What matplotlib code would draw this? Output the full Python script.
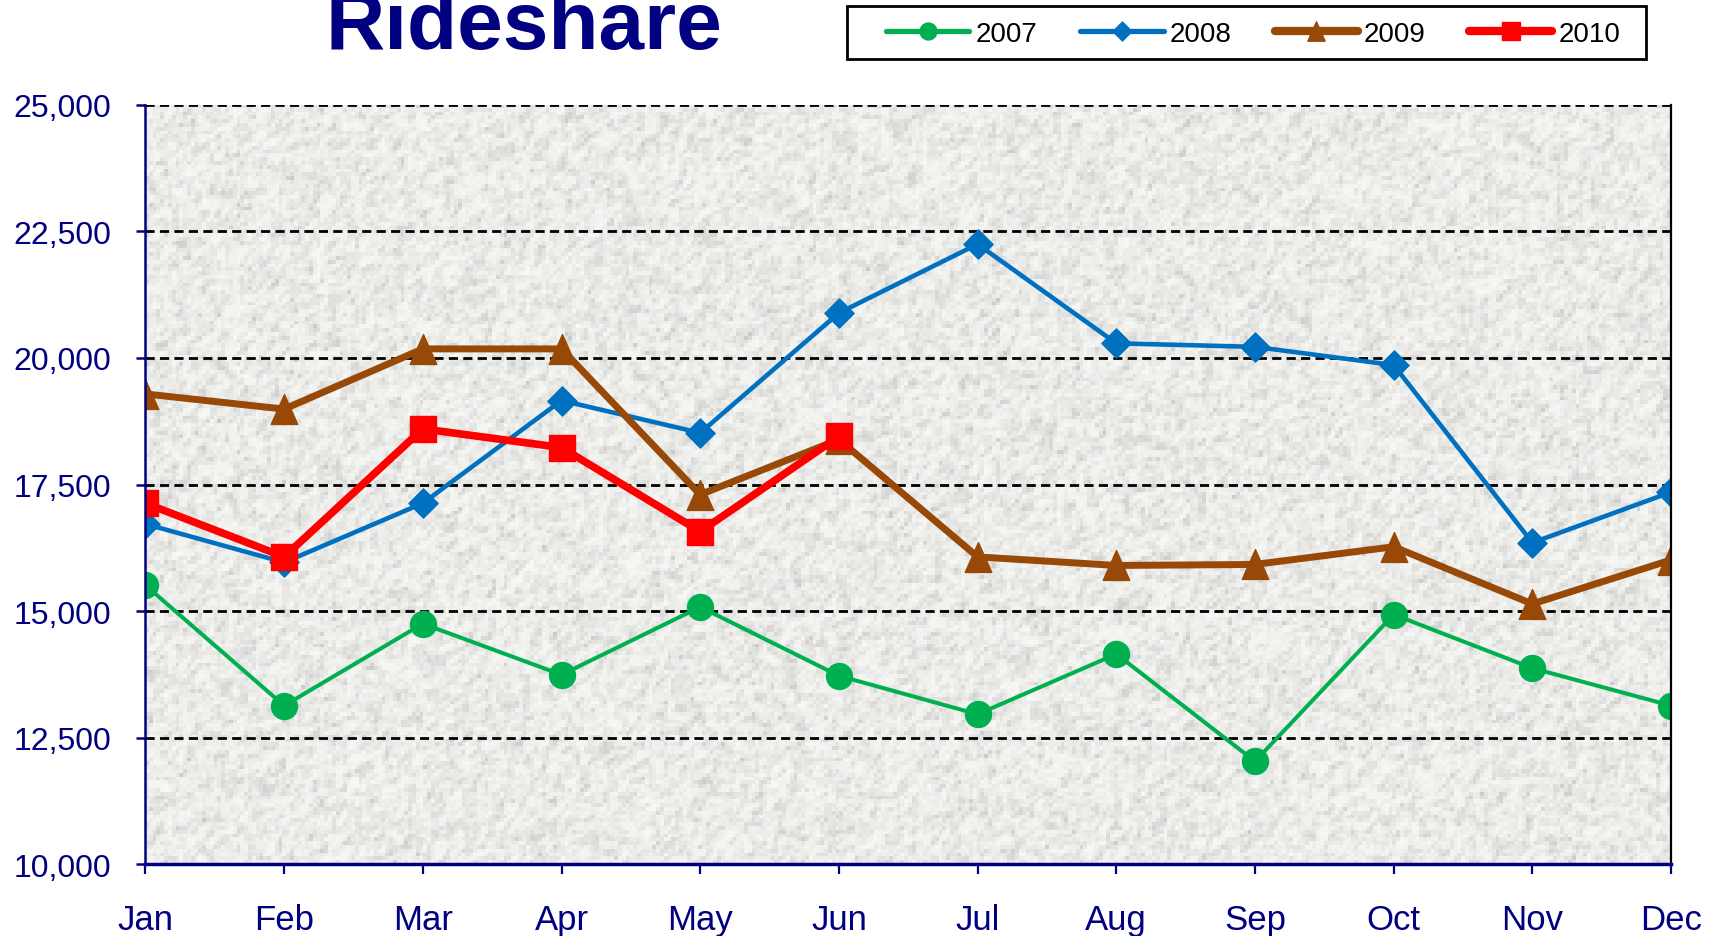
import numpy as np
import matplotlib
matplotlib.use("Agg")
import matplotlib.pyplot as plt
from matplotlib.path import Path
from matplotlib.patches import Rectangle

plt.rcParams['font.family'] = ['Liberation Sans', 'DejaVu Sans']

months = ["Jan", "Feb", "Mar", "Apr", "May", "Jun", "Jul", "Aug", "Sep", "Oct", "Nov", "Dec"]
y2007 = [15510, 13130, 14750, 13740, 15080, 13720, 12960, 14150, 12030, 14930, 13870, 13130]
y2008 = [16720, 15960, 17130, 19160, 18520, 20890, 22250, 20290, 20220, 19860, 16350, 17350]
y2009 = [19290, 18990, 20180, 20180, 17300, 18390, 16070, 15900, 15920, 16270, 15140, 16010]
y2010 = [17130, 16070, 18600, 18230, 16570, 18450]
yticks = [10000, 12500, 15000, 17500, 20000, 22500, 25000]

NAVY = '#000080'
C07, C08, C09, C10 = '#00B050', '#0070C0', '#984807', '#FF0000'

# marker shapes
circle = Path.unit_circle()
diamond = Path([(0, 1), (1, 0), (0, -1), (-1, 0), (0, 1)], closed=True)
tri = Path([(0, 0.9), (0.8, -0.9), (-0.8, -0.9), (0, 0.9)], closed=True)
square = Path([(-1, -1), (1, -1), (1, 1), (-1, 1), (-1, -1)], closed=True)

fig = plt.figure(figsize=(17.15, 9.37), dpi=100)
ax = fig.add_axes([0.0848, 0.0768, 0.8896, 0.8101])

# light textured gray background (decorative)
rng = np.random.default_rng(3)
tex = rng.random((200, 400))
tex = (tex + np.roll(tex, 1, 0) + np.roll(tex, 1, 1)) / 3
tex = (tex - tex.min()) / (tex.max() - tex.min())
g = 0.97 - 0.18 * tex ** 2
rgb = np.dstack([g, g, g * 0.99])
ax.imshow(rgb, extent=[0, 1, 0, 1], transform=ax.transAxes, aspect='auto', zorder=0,
          interpolation='nearest')

x = np.arange(len(months))
ax.plot(x, y2007, color=C07, lw=2.9, marker=circle, ms=18.7, label='2007', zorder=3)
ax.plot(x, y2008, color=C08, lw=3.3, marker=diamond, ms=21, label='2008', zorder=3)
ax.plot(x, y2009, color=C09, lw=5.0, marker=tri, ms=21.5, label='2009', zorder=4)
ax.plot(x[:len(y2010)], y2010, color=C10, lw=5.5, marker=square, ms=19, label='2010', zorder=5)

ax.set_xlim(0, 11)
ax.set_ylim(10000, 25000)
ax.set_xticks(x)
ax.set_xticklabels(months)
ax.set_yticks(yticks)
ax.set_yticklabels([f"{v:,}" for v in yticks])

ax.yaxis.grid(True, linestyle=(0, (3.3, 1.9)), color='black', lw=2.0)
for gl in ax.yaxis.get_gridlines():
    gl.set_zorder(1)

ax.spines['top'].set_visible(False)
ax.spines['right'].set_color('black')
ax.spines['right'].set_linewidth(1.6)
ax.spines['left'].set_color(NAVY)
ax.spines['left'].set_linewidth(1.8)
ax.spines['bottom'].set_color(NAVY)
ax.spines['bottom'].set_linewidth(2.5)
for s in ax.spines.values():
    s.set_zorder(6)

ax.tick_params(axis='y', direction='out', length=6.5, width=1.8, color=NAVY,
               labelcolor=NAVY, labelsize=23, pad=18)
ax.tick_params(axis='x', direction='out', length=7, width=1.6, color=NAVY,
               labelcolor=NAVY, labelsize=25, pad=21)

fig.text(0.3055, 0.9477, 'Rideshare', ha='center', va='baseline', fontsize=59,
         weight='bold', color=NAVY)

# legend box
fig.patches.append(Rectangle((847 / 1715, 1 - 60 / 937), 799 / 1715, 53 / 937,
                             transform=fig.transFigure, facecolor='white',
                             edgecolor='black', lw=2.0, zorder=1))
leg = fig.legend(loc='center left', bbox_to_anchor=(886 / 1715, 1 - 34.5 / 937),
                 ncol=4, fontsize=20, frameon=False, handlelength=3.0,
                 markerscale=0.65, borderpad=0, borderaxespad=0, handletextpad=0.22,
                 columnspacing=1.55)
leg.set_zorder(2)
for ln, w in zip(leg.get_lines(), [3.8, 3.8, 6.0, 6.0]):
    ln.set_linewidth(w)
    ln.set_solid_capstyle('round')

fig.savefig('out.png', dpi=100)
